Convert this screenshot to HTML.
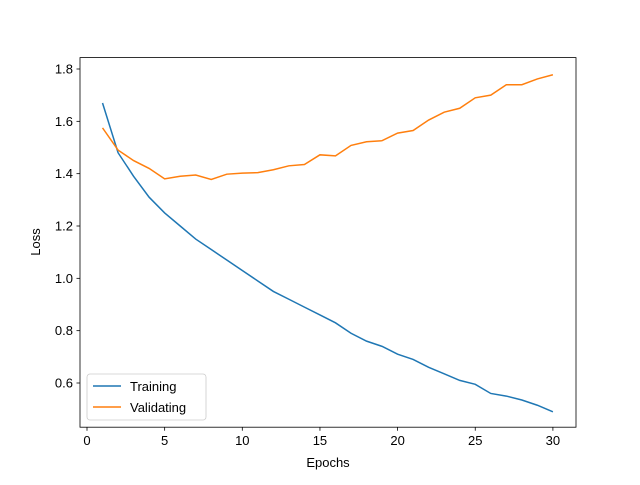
<!DOCTYPE html>
<html><head><meta charset="utf-8"><style>
body{margin:0;background:#fff;}
svg{font-family:"Liberation Sans","DejaVu Sans",sans-serif;}
</style></head><body>
<svg id="chart" width="640" height="480" viewBox="0 0 640 480">
<rect width="640" height="480" fill="#fff"/>
<g id="marks"></g>
<rect x="80" y="57.6" width="496" height="369.6" fill="none" stroke="#000" stroke-width="0.8"/>
<g id="xt"></g><g id="yt"></g>
<text x="328" y="467" text-anchor="middle" font-size="13">Epochs</text>
<text x="40" y="242" text-anchor="middle" font-size="13" transform="rotate(-90 40 242)">Loss</text>
<g>
<rect x="87" y="374" width="119" height="46" rx="3" fill="#fff" stroke="#ccc" stroke-width="0.8" fill-opacity="0.8"/>
<line x1="93" y1="386" x2="121" y2="386" stroke="#1f77b4" stroke-width="1.5"/>
<text x="130" y="391" font-size="13">Training</text>
<line x1="93" y1="407" x2="121" y2="407" stroke="#ff7f0e" stroke-width="1.5"/>
<text x="130" y="412" font-size="13">Validating</text>
</g>
</svg>
<script>
const epochs=[1,2,3,4,5,6,7,8,9,10,11,12,13,14,15,16,17,18,19,20,21,22,23,24,25,26,27,28,29,30];
const training=[1.67,1.48,1.39,1.31,1.25,1.2,1.15,1.11,1.07,1.03,0.99,0.95,0.92,0.89,0.86,0.83,0.79,0.76,0.74,0.71,0.69,0.66,0.635,0.61,0.595,0.56,0.55,0.535,0.515,0.49];
const validating=[1.575,1.49,1.45,1.42,1.38,1.39,1.395,1.378,1.398,1.402,1.404,1.415,1.43,1.435,1.472,1.468,1.508,1.522,1.526,1.555,1.565,1.605,1.635,1.65,1.69,1.70,1.74,1.74,1.762,1.778];
const xTicks=[0,5,10,15,20,25,30];
const yTicks=[0.6,0.8,1.0,1.2,1.4,1.6,1.8];
const NS="http://www.w3.org/2000/svg";
const xs=v=>87+v*15.53;
const ys=v=>383-(v-0.6)*261.67;
const marks=document.getElementById('marks');
function line(data,color,name){
  const p=document.createElementNS(NS,'polyline');
  p.setAttribute('points',data.map((v,i)=>xs(epochs[i])+','+ys(v)).join(' '));
  p.setAttribute('fill','none');p.setAttribute('stroke',color);p.setAttribute('stroke-width','1.5');
  
  
  marks.appendChild(p);
}
line(training,'#1f77b4','training-line');
line(validating,'#ff7f0e','validating-line');
const xt=document.getElementById('xt');
xTicks.forEach(t=>{
  const x=xs(t);
  const l=document.createElementNS(NS,'line');
  l.setAttribute('x1',x);l.setAttribute('x2',x);l.setAttribute('y1',427.2);l.setAttribute('y2',430.7);l.setAttribute('stroke','#000');l.setAttribute('stroke-width','0.8');
  xt.appendChild(l);
  const tx=document.createElementNS(NS,'text');
  tx.setAttribute('x',x);tx.setAttribute('y',445);tx.setAttribute('text-anchor','middle');tx.setAttribute('font-size','13');
  tx.textContent=t;
  
  
  xt.appendChild(tx);
});
const yt=document.getElementById('yt');
yTicks.forEach(t=>{
  const y=ys(t);
  const l=document.createElementNS(NS,'line');
  l.setAttribute('x1',76.5);l.setAttribute('x2',80);l.setAttribute('y1',y);l.setAttribute('y2',y);l.setAttribute('stroke','#000');l.setAttribute('stroke-width','0.8');
  yt.appendChild(l);
  const tx=document.createElementNS(NS,'text');
  tx.setAttribute('x',73);tx.setAttribute('y',y+4.5);tx.setAttribute('text-anchor','end');tx.setAttribute('font-size','13');
  tx.textContent=t.toFixed(1);
  
  
  yt.appendChild(tx);
});
</script>
</body></html>
